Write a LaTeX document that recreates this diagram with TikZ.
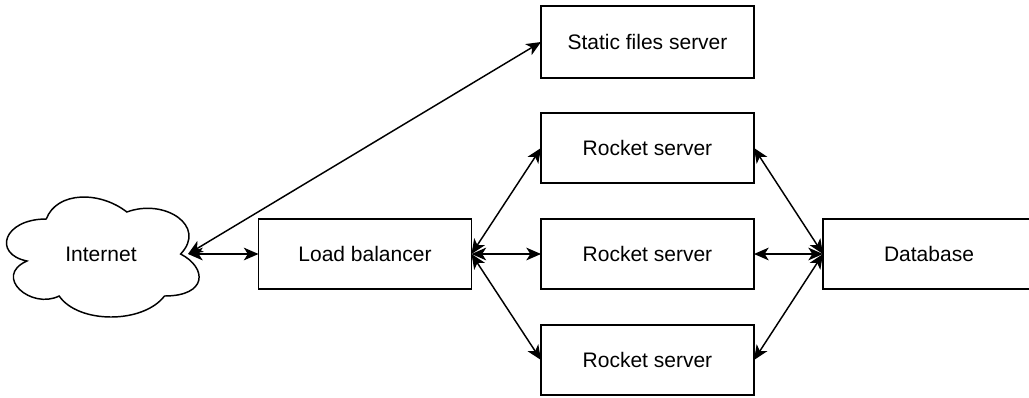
\documentclass[tikz,border=0pt]{standalone}
\usepackage{fontspec}
\setmainfont{Liberation Sans}
\usetikzlibrary{arrows.meta}
\begin{document}
\begin{tikzpicture}[x=0.75pt,y=-0.75pt,
  box/.style={draw=black,line width=1.1pt,fill=white,minimum width=159.75pt,minimum height=52.5pt,inner sep=0pt,outer sep=0pt,font=\fontsize{15.75pt}{18pt}\selectfont},
  link/.style={line width=1.1pt,{Stealth[length=11pt,width=9.5pt,inset=3pt]}-{Stealth[length=11pt,width=9.5pt,inset=3pt]}}]
\useasboundingbox (0,0) rectangle (1029,397);
\clip (0,0) rectangle (1029,397);
\fill[white] (0,0) rectangle (1029,397);
% cloud (draw.io path), x0=-7.5, w=215, y0=184, h=140
\def\cx{-7.5}\def\cw{215}\def\cy{184}\def\ch{140}
\draw[line width=1.1pt,fill=white]
 ({\cx+0.25*\cw},{\cy+0.25*\ch})
 .. controls ({\cx+0.05*\cw},{\cy+0.25*\ch}) and ({\cx+0*\cw},{\cy+0.5*\ch}) .. ({\cx+0.16*\cw},{\cy+0.55*\ch})
 .. controls ({\cx+0*\cw},{\cy+0.66*\ch}) and ({\cx+0.18*\cw},{\cy+0.9*\ch}) .. ({\cx+0.31*\cw},{\cy+0.8*\ch})
 .. controls ({\cx+0.4*\cw},{\cy+1*\ch}) and ({\cx+0.7*\cw},{\cy+1*\ch}) .. ({\cx+0.8*\cw},{\cy+0.8*\ch})
 .. controls ({\cx+1*\cw},{\cy+0.8*\ch}) and ({\cx+1*\cw},{\cy+0.6*\ch}) .. ({\cx+0.875*\cw},{\cy+0.5*\ch})
 .. controls ({\cx+1*\cw},{\cy+0.3*\ch}) and ({\cx+0.8*\cw},{\cy+0.1*\ch}) .. ({\cx+0.625*\cw},{\cy+0.2*\ch})
 .. controls ({\cx+0.5*\cw},{\cy+0.05*\ch}) and ({\cx+0.3*\cw},{\cy+0.05*\ch}) .. cycle;
\node[font=\fontsize{15.75pt}{18pt}\selectfont] (internet) at (101,254) {Internet};
\coordinate (inet) at (188,254);
\node[box,minimum height=54pt] (static) at (647.5,42) {Static files server};
\node[box] (r1) at (647.5,148) {Rocket server};
\node[box] (r2) at (647.5,254) {Rocket server};
\node[box] (r3) at (647.5,360) {Rocket server};
\node[box] (lb) at (365,254) {Load balancer};
\node[box,minimum width=159pt] (db) at (929,254) {Database};
\draw[link] (inet) -- (static.west);
\draw[link] (inet) -- (lb.west);
\draw[link] (lb.east) -- (r1.west);
\draw[link] (lb.east) -- (r2.west);
\draw[link] (lb.east) -- (r3.west);
\draw[link] (db.west) -- (r1.east);
\draw[link] (db.west) -- (r2.east);
\draw[link] (db.west) -- (r3.east);
\end{tikzpicture}
\end{document}
